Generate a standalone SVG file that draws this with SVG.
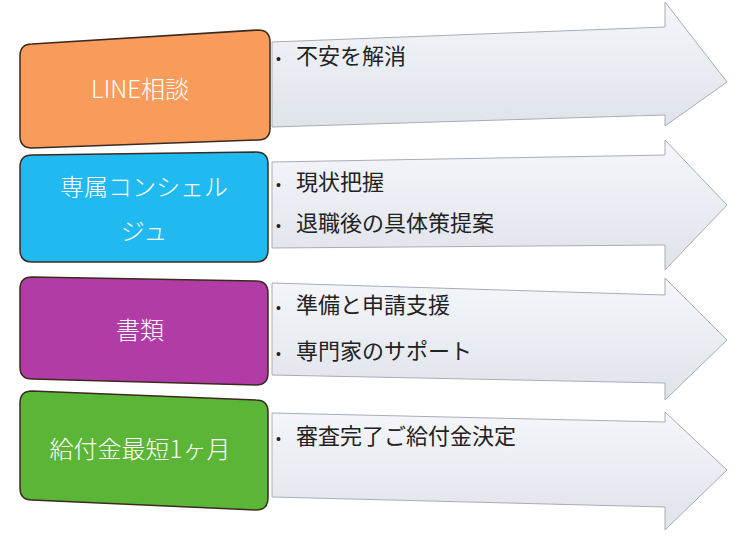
<svg xmlns="http://www.w3.org/2000/svg" width="744" height="537" viewBox="0 0 744 537">
<defs>
<linearGradient id="ag" x1="0" y1="0" x2="0" y2="1"><stop offset="0" stop-color="#f4f6fa"/><stop offset="1" stop-color="#dfe3ea"/></linearGradient>
<style>
.arr{fill:url(#ag);stroke:#a8acb4;stroke-width:1}
.box{stroke:#3a2a20;stroke-width:1.5}
.lbl{font-family:"Noto Sans CJK JP","Liberation Sans",sans-serif;font-weight:300;font-size:24px;fill:#fff;text-anchor:middle}
.itm{font-family:"Noto Sans CJK JP","Liberation Sans",sans-serif;font-weight:400;font-size:22px;fill:#222}
.bul{font-family:"Liberation Sans",sans-serif;font-size:14px;fill:#222}
</style>
</defs>
<g id="connectors">
<path class="arr" d="M272,42 L665,27 L665,2 L727,82 L665,126 L665,115 L272,127 Z"/>
<path class="arr" d="M272,162 L665,155 L665,140 L727,205 L665,270 L665,245 L272,248 Z"/>
<path class="arr" d="M272,283 L665,295 L665,278 L727,340 L665,400 L665,383 L272,375 Z"/>
<path class="arr" d="M272,413 L665,422 L665,412 L727,470 L665,530 L665,507 L272,497 Z"/>
</g>
<g id="n1"><path class="box" fill="#f99b5b" d="M32,44 L258,30 Q270,30 270,42 L270,128 Q270,140 258,140 L32,148 Q20,148 20,136 L20,56 Q20,44 32,44 Z"/><text class="lbl" x="140" y="98">LINE相談</text>
<text class="bul" x="276" y="64">•</text><text class="itm" x="296" y="64">不安を解消</text></g>
<g id="n2"><path class="box" fill="#21baf0" stroke="#0c3850" d="M32,155 L256,152 Q268,152 268,164 L268,250 Q268,262 256,262 L32,262 Q20,262 20,250 L20,167 Q20,155 32,155 Z"/><text class="lbl" x="144" y="196">専属コンシェル</text><text class="lbl" x="144" y="240">ジュ</text>
<text class="bul" x="276" y="190">•</text><text class="itm" x="296" y="190">現状把握</text><text class="bul" x="276" y="231">•</text><text class="itm" x="296" y="231">退職後の具体策提案</text></g>
<g id="n3"><path class="box" fill="#b23ca6" stroke="#fff" d="M32,277 L256,281 Q268,281 268,293 L268,373 Q268,385 256,385 L32,379 Q20,379 20,367 L20,289 Q20,277 32,277 Z"/><text class="lbl" x="140" y="339">書類</text>
<text class="bul" x="276" y="313">•</text><text class="itm" x="296" y="313">準備と申請支援</text><text class="bul" x="276" y="359">•</text><text class="itm" x="296" y="359">専門家のサポート</text></g>
<g id="n4"><path class="box" fill="#5bb537" d="M32,391 L256,400 Q268,400 268,412 L268,498 Q268,510 256,510 L32,500 Q20,500 20,488 L20,403 Q20,391 32,391 Z"/><text class="lbl" x="140" y="458">給付金最短1ヶ月</text>
<text class="bul" x="276" y="444">•</text><text class="itm" x="296" y="444">審査完了ご給付金決定</text></g>
</svg>
